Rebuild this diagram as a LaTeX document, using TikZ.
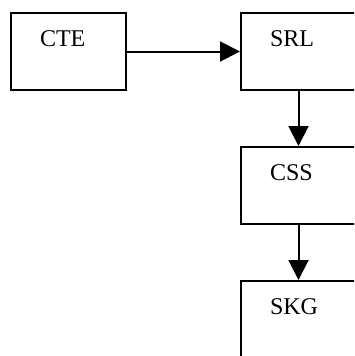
\documentclass[tikz,border=0pt]{standalone}
\usepackage{fontspec}
\setmainfont{Liberation Serif}
\usepackage{tikz}
\usetikzlibrary{arrows.meta,positioning}
\tikzstyle{block} = [draw, rectangle, line width=2pt, text width=57pt, align=left,
    inner xsep=29pt, inner ysep=0pt, text height=33pt, text depth=44pt,
    font=\fontsize{24pt}{28pt}\selectfont]
\tikzstyle{connector} = [->, line width=2pt]

\begin{document}
\begin{tikzpicture}[x=1pt, y=1pt, >={Triangle[length=20pt,width=20pt]}]
    \useasboundingbox (0,0) rectangle (354,-356);
    \clip (0,0) rectangle (354,-356);
    \node (cte) [block] at (68.5,-51.5) {CTE};
    \node (srl) [block, right of=cte, node distance=230pt] {SRL};
    \node (css) [block, below of=srl, node distance=134pt] {CSS};
    \node (skg) [block, below of=css, node distance=134pt] {SKG};

    \draw [connector] (cte) -- (srl);
    \draw [connector] (srl) -- (css);
    \draw [connector] (css) -- (skg);
\end{tikzpicture}
\end{document}
